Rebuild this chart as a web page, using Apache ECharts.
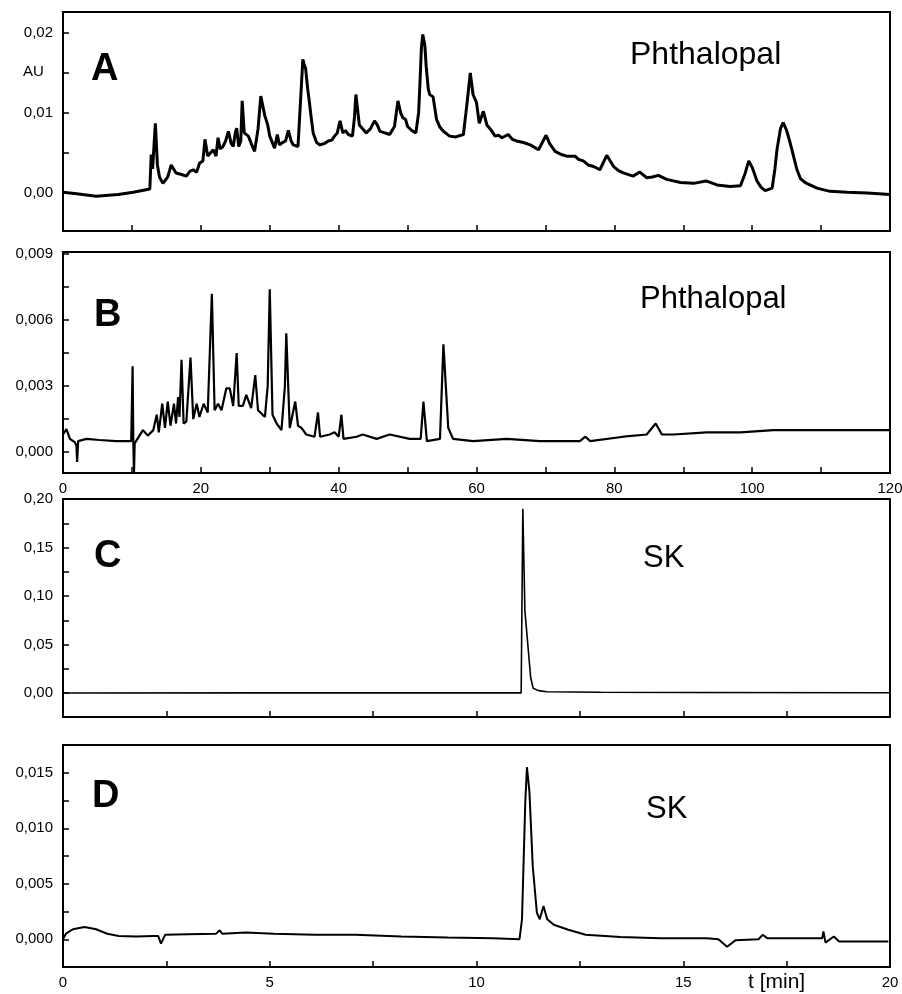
<!DOCTYPE html>
<html>
<head>
<meta charset="utf-8">
<script src="https://cdn.jsdelivr.net/npm/echarts@6/dist/echarts.min.js"></script>
<style>
html,body{margin:0;padding:0;background:#fff;}
#chart{width:902px;height:994px;}
</style>
</head>
<body>
<div id="chart"></div>
<script>
// ---------- Panel A (Phthalopal, 0-120 min) ----------
const aTime = [0,2,4.8,8,10.2,12.6,12.8,13.0,13.4,13.7,14.0,14.5,15.2,15.7,16.4,17.2,17.9,18.4,18.9,19.4,19.8,20.3,20.6,21.0,21.4,21.8,22.2,22.5,22.8,23.2,23.6,24.0,24.4,24.7,25.0,25.2,25.5,25.8,26.0,26.3,26.9,27.3,27.8,28.3,28.7,29.3,29.7,30.0,30.7,31.1,31.4,31.7,32.3,32.7,33.1,33.4,34.1,34.5,34.8,35.0,35.2,35.5,35.7,36.0,36.3,36.8,37.3,38.0,38.5,39.0,39.4,39.8,40.2,40.6,41.0,41.4,42.0,42.3,42.5,42.8,43.0,43.5,44.0,44.6,45.2,45.6,46.0,46.7,47.4,48.1,48.6,49.0,49.3,49.7,50.0,50.6,51.2,51.6,51.8,52.0,52.2,52.5,52.7,53.0,53.2,53.7,54.2,54.7,55.2,56.1,57.0,58.1,58.6,59.1,59.5,60.0,60.4,61.0,61.5,62.0,62.7,63.2,63.7,64.6,65.2,65.8,66.8,67.8,69.0,70.1,70.6,71.4,72.3,73.1,74.3,74.8,75.5,76.2,77.0,77.9,78.9,79.9,80.6,81.3,82.7,83.7,84.7,85.5,86.4,87.6,89.6,91.5,93.3,94.9,96.8,98.3,99.0,99.5,100.0,100.7,101.3,101.9,102.9,103.3,103.6,104.1,104.5,105.0,105.5,106.5,107.0,107.7,109.4,111.3,113.8,116.7,120.0];
const aAbs = [0.0001,-0.0001,-0.0004,-0.0002,0.0001,0.0005,0.0048,0.0030,0.0087,0.0035,0.0020,0.0012,0.0020,0.0035,0.0025,0.0023,0.0021,0.0027,0.0029,0.0026,0.0037,0.0040,0.0067,0.0046,0.0050,0.0054,0.0046,0.0069,0.0055,0.0058,0.0065,0.0077,0.0062,0.0058,0.0075,0.0081,0.0058,0.0065,0.0115,0.0075,0.0071,0.0062,0.0052,0.0080,0.0121,0.0096,0.0085,0.0071,0.0056,0.0073,0.0060,0.0062,0.0065,0.0078,0.0065,0.0060,0.0058,0.0120,0.0167,0.0160,0.0156,0.0130,0.0117,0.0095,0.0075,0.0063,0.0060,0.0062,0.0065,0.0066,0.0071,0.0075,0.0090,0.0075,0.0078,0.0073,0.0071,0.0095,0.0123,0.0100,0.0085,0.0080,0.0075,0.0080,0.0090,0.0085,0.0077,0.0075,0.0073,0.0083,0.0115,0.0100,0.0094,0.0092,0.0083,0.0078,0.0075,0.0100,0.0138,0.0180,0.0198,0.0185,0.0158,0.0130,0.0123,0.0120,0.0092,0.0082,0.0077,0.0071,0.0070,0.0073,0.0110,0.0150,0.0123,0.0113,0.0087,0.0102,0.0085,0.0080,0.0071,0.0072,0.0069,0.0073,0.0067,0.0065,0.0063,0.0060,0.0054,0.0072,0.0062,0.0052,0.0048,0.0046,0.0046,0.0042,0.0040,0.0035,0.0033,0.0029,0.0047,0.0033,0.0028,0.0025,0.0021,0.0026,0.0019,0.0020,0.0022,0.0017,0.0013,0.0012,0.0015,0.0010,0.0008,0.0009,0.0025,0.0040,0.0032,0.0015,0.0007,0.0003,0.0006,0.0030,0.0054,0.0080,0.0088,0.0078,0.0063,0.0029,0.0018,0.0013,0.0006,0.0002,0.0001,0.0000,-0.0002];

// ---------- Panel B (Phthalopal, 0-120 min) ----------
const bTime = [0,0.5,1.0,1.7,1.95,2.05,2.2,3.4,5.3,7.7,9.9,10.1,10.2,10.3,10.4,10.6,11.6,12.3,13.1,13.6,13.9,14.4,14.8,15.2,15.6,16.1,16.4,16.7,16.9,17.2,17.5,17.9,18.5,18.9,19.4,19.8,20.4,21.0,21.6,22.0,22.5,23.0,23.7,24.2,24.7,25.2,25.5,26.1,26.6,27.3,27.9,28.3,29.3,29.7,30.0,30.4,31.0,31.7,32.2,32.4,32.9,33.7,34.1,34.6,35.3,36.5,37.0,37.3,38.7,39.4,40.0,40.4,40.7,42.6,43.5,45.5,47.4,50.3,51.9,52.3,52.8,54.7,55.2,55.9,56.6,59.5,64.4,69.2,71.6,75.0,75.8,76.5,81.3,84.7,86.0,86.9,88.6,93.4,98.3,103.1,107.9,112.8,120];
const bAbs = [0.0008,0.00105,0.0006,0.00045,0.0003,-0.00045,0.0005,0.0006,0.00055,0.0005,0.0005,0.0039,0.0005,-0.0009,0.0004,0.0005,0.0010,0.00075,0.0010,0.0017,0.0009,0.0022,0.0011,0.0023,0.0012,0.0022,0.0013,0.0025,0.0016,0.0042,0.0013,0.0014,0.0043,0.0015,0.0022,0.0016,0.0022,0.0018,0.0072,0.0019,0.0022,0.0019,0.0029,0.0029,0.0021,0.0045,0.0021,0.0021,0.0026,0.0020,0.0035,0.0019,0.0016,0.0030,0.0074,0.0017,0.0013,0.0010,0.0030,0.0054,0.0011,0.0023,0.0012,0.0011,0.0008,0.0007,0.0018,0.0007,0.0008,0.0009,0.0007,0.0017,0.0006,0.0007,0.0008,0.0006,0.0008,0.0006,0.0006,0.0023,0.0005,0.0006,0.0049,0.0011,0.0006,0.0005,0.0006,0.0005,0.0005,0.0005,0.0007,0.0005,0.0007,0.0008,0.0013,0.0008,0.0008,0.0009,0.0009,0.0010,0.0010,0.0010,0.0010];

// ---------- Panel C (SK, 0-20 min) ----------
const cTime = [0,5,11.08,11.12,11.15,11.17,11.31,11.37,11.5,11.7,13.0,15.0,20.0];
const cAbs = [0,0.0002,0.0002,0.190,0.192,0.085,0.016,0.005,0.0025,0.0013,0.0008,0.0005,0.0003];

// ---------- Panel D (SK, 0-20 min) ----------
const dTime = [0,0.07,0.24,0.52,0.8,1.07,1.35,1.77,2.19,2.3,2.37,2.47,3.02,3.7,3.79,3.85,4.42,5.1,6.09,7.07,8.18,9.3,10.4,11.04,11.1,11.18,11.22,11.28,11.36,11.46,11.53,11.62,11.71,11.87,12.22,12.64,13.48,14.45,15.57,15.85,16.06,16.26,16.82,16.92,17.03,17.94,18.36,18.39,18.44,18.64,18.77,19.96];
const dAbs = [0,0.0005,0.0009,0.0011,0.0009,0.0005,0.0003,0.00025,0.0003,0.0003,-0.0004,0.0004,0.00045,0.0005,0.0008,0.0005,0.0006,0.0005,0.0004,0.0004,0.00025,0.00015,0.0001,0.0,0.0018,0.0124,0.0155,0.0133,0.0066,0.0024,0.0018,0.0030,0.0018,0.0013,0.00085,0.0004,0.0002,0.0001,0.0001,0.0,-0.00067,-0.0001,0.0,0.0004,0.0001,0.0001,0.0001,0.0007,-0.0003,0.00025,-0.0002,-0.0002];

// ---------- Tick and label values ----------
const abTicksX = [0,10,20,30,40,50,60,70,80,90,100,110,120];
const bLabelsX = [0,20,40,60,80,100,120];
const cdTicksX = [0,2.5,5,7.5,10,12.5,15,17.5,20];
const dLabelsX = [0,5,10,15,20];
const aTicksY = [0,0.005,0.01,0.015,0.02];
const aLabelsY = [0,0.01,0.02];
const bTicksY = [0,0.0015,0.003,0.0045,0.006,0.0075,0.009];
const bLabelsY = [0,0.003,0.006,0.009];
const cTicksY = [0,0.025,0.05,0.075,0.1,0.125,0.15,0.175,0.2];
const cLabelsY = [0,0.05,0.1,0.15,0.2];
const dTicksY = [0,0.0025,0.005,0.0075,0.01,0.0125,0.015];
const dLabelsY = [0,0.005,0.01,0.015];

const FONT = '"Liberation Sans", Arial, sans-serif';
const pair = (t, v) => t.map((x, i) => [x, v[i]]);
const comma = d => v => v.toFixed(d).replace('.', ',');

const chart = echarts.init(document.getElementById('chart'), null, {renderer: 'canvas'});

const grids = [
  {left: 63, top: 12, width: 827, height: 219},
  {left: 63, top: 252, width: 827, height: 221},
  {left: 63, top: 499, width: 827, height: 218},
  {left: 63, top: 745, width: 827, height: 222}
].map(g => Object.assign(g, {show: true, borderColor: '#000', borderWidth: 2, backgroundColor: 'transparent',
  containLabel: false, outerBoundsMode: 'none'}));

function xAx(idx, max, ticks, labels) {
  return {
    type: 'value', gridIndex: idx, min: 0, max: max,
    axisLine: {show: true, onZero: false, lineStyle: {color: '#000', width: 2}},
    axisTick: {show: true, inside: true, length: 6, customValues: ticks, lineStyle: {color: '#000', width: 1.5}},
    axisLabel: labels ? {show: true, customValues: labels, color: '#000', fontFamily: FONT, fontSize: 15, margin: 8,
      hideOverlap: false, formatter: v => String(v)} : {show: false},
    splitLine: {show: false}
  };
}
function yAx(idx, min, max, ticks, labels, digits) {
  return {
    type: 'value', gridIndex: idx, min: min, max: max,
    axisLine: {show: true, onZero: false, lineStyle: {color: '#000', width: 2}},
    axisTick: {show: true, inside: true, length: 6, customValues: ticks, lineStyle: {color: '#000', width: 1.5}},
    axisLabel: {show: true, customValues: labels, color: '#000', fontFamily: FONT, fontSize: 15, margin: 10,
      hideOverlap: false, formatter: comma(digits)},
    splitLine: {show: false}
  };
}

const txt = (text, x, y, size, bold, align) => ({
  type: 'text', x: x, y: y, z: 100,
  style: {text: text, fill: '#000', font: (bold ? 'bold ' : '') + size + 'px ' + FONT,
    textAlign: align || 'left', textVerticalAlign: 'middle'}
});

const option = {
  animation: false,
  backgroundColor: '#fff',
  grid: grids,
  xAxis: [
    xAx(0, 120, abTicksX, null),
    xAx(1, 120, abTicksX, bLabelsX),
    xAx(2, 20, cdTicksX, null),
    xAx(3, 20, cdTicksX, dLabelsX)
  ],
  yAxis: [
    yAx(0, -0.00475, 0.0226, aTicksY, aLabelsY, 2),
    yAx(1, -0.00095, 0.0091, bTicksY, bLabelsY, 3),
    yAx(2, -0.0247, 0.2, cTicksY, cLabelsY, 2),
    yAx(3, -0.0025, 0.0175, dTicksY, dLabelsY, 3)
  ],
  series: [
    {type: 'line', xAxisIndex: 0, yAxisIndex: 0, data: pair(aTime, aAbs), showSymbol: false, lineStyle: {color: '#000', width: 3}, silent: true},
    {type: 'line', xAxisIndex: 1, yAxisIndex: 1, data: pair(bTime, bAbs), showSymbol: false, lineStyle: {color: '#000', width: 2.2}, silent: true},
    {type: 'line', xAxisIndex: 2, yAxisIndex: 2, data: pair(cTime, cAbs), showSymbol: false, lineStyle: {color: '#000', width: 1.6}, silent: true},
    {type: 'line', xAxisIndex: 3, yAxisIndex: 3, data: pair(dTime, dAbs), showSymbol: false, lineStyle: {color: '#000', width: 2}, silent: true}
  ],
  graphic: [
    txt('A', 91, 70, 38, true),
    txt('B', 94, 316, 38, true),
    txt('C', 94, 557, 38, true),
    txt('D', 92, 797, 38, true),
    txt('AU', 23, 72, 15, false),
    txt('Phthalopal', 630, 55, 32, false),
    txt('Phthalopal', 640, 299, 31, false),
    txt('SK', 643, 558, 31, false),
    txt('SK', 646, 809, 31, false),
    txt('t [min]', 748, 982, 21, false)
  ]
};
chart.setOption(option);
</script>
</body>
</html>
